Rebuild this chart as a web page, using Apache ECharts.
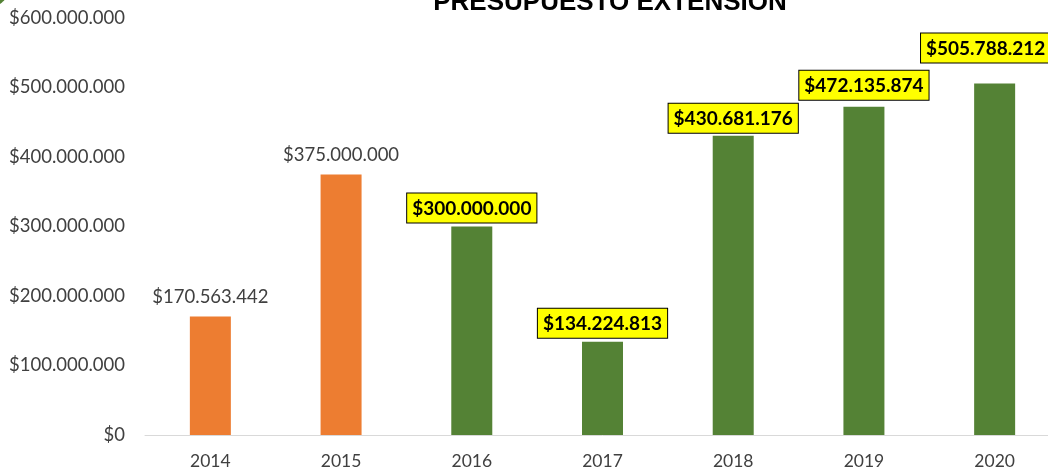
<!DOCTYPE html>
<html>
<head>
<meta charset="utf-8">
<script src="https://cdn.jsdelivr.net/npm/echarts@6/dist/echarts.min.js"></script>
<style>html,body{margin:0;padding:0;background:#fff;overflow:hidden}#c{width:1066px;height:470px}</style>
</head>
<body>
<div id="c"></div>
<script>
const categories = ['2014', '2015', '2016', '2017', '2018', '2019', '2020'];
const values = [170563442, 375000000, 300000000, 134224813, 430681176, 472135874, 505788212];
const highlighted = [false, false, true, true, true, true, true];
const yTicks = [0, 100000000, 200000000, 300000000, 400000000, 500000000, 600000000];
const titleText = 'PRESUPUESTO EXTENSION';

function fmt(v) {
  return '$' + String(Math.round(v)).replace(/\B(?=(\d{3})+(?!\d))/g, '.');
}

const ORANGE = '#ED7D31', GREEN = '#548235';
const FONT = 'Lato';

const data = values.map((v, i) => {
  const item = { value: v, itemStyle: { color: highlighted[i] ? GREEN : ORANGE } };
  if (highlighted[i]) {
    item.label = {
      show: true, position: 'top', distance: 4,
      fontFamily: FONT, fontWeight: 'bold', fontSize: 19, color: '#000',
      backgroundColor: '#FFFF00', borderColor: '#000', borderWidth: 1,
      padding: [6, 5, 4, 5]
    };
    if (i === 6) { item.label.offset = [-9, -17]; }
    if (i === 5) { item.label.distance = 7; }
    if (i === 4) { item.label.distance = 3; }
  } else {
    item.label = {
      show: true, position: 'top', distance: 10,
      fontFamily: FONT, fontSize: 18.5, color: '#404040'
    };
  }
  return item;
});

const chart = echarts.init(document.getElementById('c'));
chart.setOption({
  animation: false,
  title: {
    text: titleText, left: 605, textAlign: 'center', top: -15,
    textStyle: { fontFamily: 'Liberation Sans', fontWeight: 'bold', fontSize: 26, color: '#000' }
  },
  graphic: [{ type: 'circle', shape: { cx: -8, cy: -10, r: 16 }, style: { fill: GREEN } }],
  grid: { left: 145, top: 18, right: 6, height: 417 },
  xAxis: {
    type: 'category', data: categories,
    axisLine: { lineStyle: { color: '#D9D9D9', width: 1 } },
    axisTick: { show: false },
    axisLabel: { fontFamily: FONT, fontSize: 17.5, color: '#404040', margin: 17 }
  },
  yAxis: {
    type: 'value', min: 0, max: 600000000, interval: 100000000,
    splitLine: { show: false }, axisLine: { show: false }, axisTick: { show: false },
    axisLabel: {
      fontFamily: FONT, fontSize: 18.5, color: '#404040', margin: 20,
      formatter: v => yTicks.includes(v) ? fmt(v) : ''
    }
  },
  series: [{
    type: 'bar', data: data, barWidth: 41,
    label: { formatter: p => fmt(p.value) }
  }]
});
</script>
</body>
</html>
